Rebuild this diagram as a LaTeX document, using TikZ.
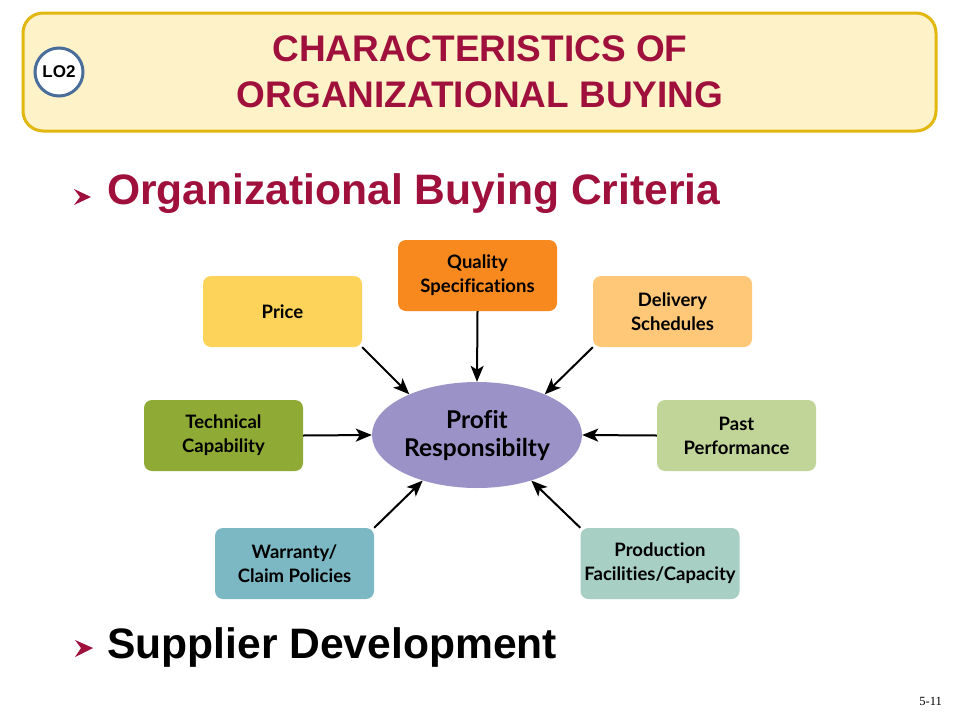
\documentclass[tikz,border=0pt]{standalone}
\usepackage{fontspec}
\setmainfont{Liberation Sans}
\newfontfamily\boxfont{Lato}[Ligatures={NoCommon,NoContextual}]
\newfontfamily\pagefont{Liberation Serif}
\usetikzlibrary{arrows.meta,shapes.geometric}
\definecolor{crim}{HTML}{A0103C}
\definecolor{headfill}{HTML}{FDF2C8}
\definecolor{headdraw}{HTML}{E2B70F}
\definecolor{lodraw}{HTML}{4A6E9B}
\definecolor{cprice}{HTML}{FDD35A}
\definecolor{cquality}{HTML}{F7891F}
\definecolor{cdelivery}{HTML}{FEC878}
\definecolor{ctech}{HTML}{8FAA35}
\definecolor{cpast}{HTML}{C2D598}
\definecolor{cwarranty}{HTML}{7CB8C4}
\definecolor{cprod}{HTML}{A7CFC4}
\definecolor{cell}{HTML}{9B93C8}
\tikzset{
  critbox/.style={rectangle, rounded corners=8pt, minimum width=159pt, minimum height=71pt,
    inner sep=0pt, align=center, text=black,
    font=\boxfont\bfseries\fontsize{18.5}{24}\selectfont},
  conn/.style={-{Stealth[length=16pt,width=13pt,inset=4pt]}, line width=2pt, black},
  chev/.style={fill=crim}
}
\begin{document}
\begin{tikzpicture}[x=1pt,y=-1pt]
\useasboundingbox (0,0) rectangle (960,720);
\fill[white] (0,0) rectangle (960,720);
% header
\draw[headdraw, line width=3pt, fill=headfill, rounded corners=20pt] (23,13) rectangle (936,131);
\node[circle, draw=lodraw, line width=3pt, fill=white, minimum size=48pt, inner sep=0pt,
  font=\bfseries\fontsize{17}{17}\selectfont] (lo) at (59,72) {LO2};
\node[text=crim, align=center, font=\bfseries\fontsize{37}{46}\selectfont] (title) at (480,72)
  {CHARACTERISTICS OF\\ORGANIZATIONAL BUYING};
% bullets
\fill[chev] (74,189) -- (91,197) -- (74,205) -- (80,197) -- cycle;
\node[anchor=base west, text=crim, font=\bfseries\fontsize{42.6}{50}\selectfont, inner sep=0pt] (crit) at (107,204)
  {Organizational Buying Criteria};
\fill[chev] (75,640) -- (93,648) -- (75,657) -- (81,648) -- cycle;
\node[anchor=base west, text=black, font=\bfseries\fontsize{42.6}{50}\selectfont, inner sep=0pt] (supp) at (107,658)
  {Supplier Development};
% page number
\node[anchor=base east, font=\pagefont\fontsize{12.5}{12.5}\selectfont, inner sep=0pt] (pg) at (942,705) {5-11};
% centre
\node[ellipse, fill=cell, minimum width=210pt, minimum height=106pt, inner sep=0pt, align=center,
  font=\boxfont\bfseries\fontsize{24.5}{28}\selectfont] (ell) at (477,435) {Profit\\Responsibilty};
% boxes
\node[critbox, fill=cprice] (price) at (282.5,311.5) {Price};
\node[critbox, fill=cquality] (quality) at (477.5,275.5) {Quality\\Specifications};
\node[critbox, fill=cdelivery] (delivery) at (672.5,311.5) {Delivery\\Schedules};
\node[critbox, fill=ctech] (tech) at (223.5,435.5) {Technical\\Capability};
\node[critbox, fill=cpast] (past) at (736.5,435.5) {Past\\Performance};
\node[critbox, fill=cwarranty] (warranty) at (294.5,563.5) {Warranty/\\Claim Policies};
\node[critbox, fill=cprod] (prod) at (660,563.5) {Production\\Facilities/Capacity};
% connectors
\draw[conn] (price.south east) -- (ell.149);
\draw[conn] (quality.south) -- (ell.north);
\draw[conn] (delivery.south west) -- (ell.31);
\draw[conn] (tech.east) -- (ell.west);
\draw[conn] (past.west) -- (ell.east);
\draw[conn] (warranty.north east) -- (ell.220);
\draw[conn] (prod.north west) -- (ell.320);
\end{tikzpicture}
\end{document}
